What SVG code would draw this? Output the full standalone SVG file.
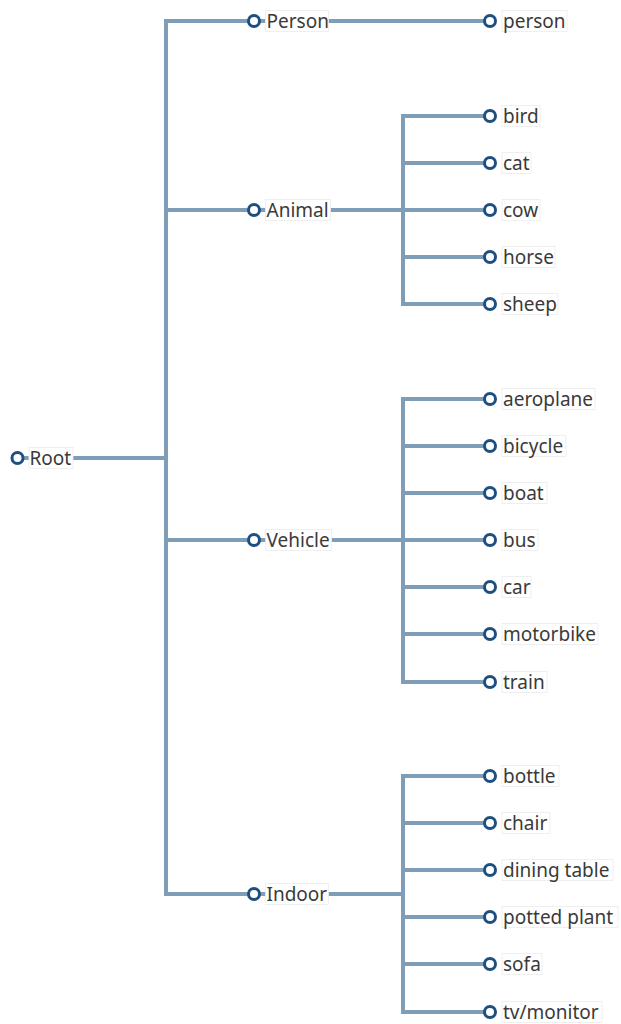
<svg xmlns="http://www.w3.org/2000/svg" width="621" height="1024" viewBox="0 0 621 1024">
<style>
.e{fill:none;stroke:#7f9db7;stroke-width:4;stroke-linejoin:miter}
.n{fill:#fff;stroke:#1d5080;stroke-width:3}
.b{fill:#fff;stroke:#ececec;stroke-width:0.8}
.t{font-family:"Noto Sans","Open Sans","DejaVu Sans",sans-serif;font-size:19px;fill:#3a3a3a}
</style>
<rect width="621" height="1024" fill="#fff"/>
<g id="connectors">
<path class="e" d="M17.5 458H166V21H254"/>
<path class="e" d="M17.5 458H166V210H254"/>
<path class="e" d="M17.5 458H166V540H254"/>
<path class="e" d="M17.5 458H166V894H254"/>
<path class="e" d="M254 21H490"/>
<path class="e" d="M254 210H403V116H490"/>
<path class="e" d="M254 210H403V163H490"/>
<path class="e" d="M254 210H490"/>
<path class="e" d="M254 210H403V257H490"/>
<path class="e" d="M254 210H403V304H490"/>
<path class="e" d="M254 540H403V399H490"/>
<path class="e" d="M254 540H403V446H490"/>
<path class="e" d="M254 540H403V493H490"/>
<path class="e" d="M254 540H490"/>
<path class="e" d="M254 540H403V587H490"/>
<path class="e" d="M254 540H403V634H490"/>
<path class="e" d="M254 540H403V682H490"/>
<path class="e" d="M254 894H403V776H490"/>
<path class="e" d="M254 894H403V823H490"/>
<path class="e" d="M254 894H403V870H490"/>
<path class="e" d="M254 894H403V917H490"/>
<path class="e" d="M254 894H403V964H490"/>
<path class="e" d="M254 894H403V1012H490"/>
</g>
<g id="root"><circle class="n" cx="17.5" cy="458" r="5.5"/><rect class="b" x="29" y="447.5" width="44" height="21"/><text class="t" x="29.5" y="464.5">Root</text></g>
<g id="Person"><circle class="n" cx="254" cy="21" r="5.5"/><rect class="b" x="265.5" y="10.5" width="63" height="21"/><text class="t" x="266.5" y="27.5">Person</text></g>
<g id="Animal"><circle class="n" cx="254" cy="210" r="5.5"/><rect class="b" x="265.5" y="199.5" width="65" height="21"/><text class="t" x="266.5" y="216.5">Animal</text></g>
<g id="Vehicle"><circle class="n" cx="254" cy="540" r="5.5"/><rect class="b" x="265.5" y="529.5" width="66" height="21"/><text class="t" x="266.5" y="546.5">Vehicle</text></g>
<g id="Indoor"><circle class="n" cx="254" cy="894" r="5.5"/><rect class="b" x="265.5" y="883.5" width="63" height="21"/><text class="t" x="266.5" y="900.5">Indoor</text></g>
<g id="person"><circle class="n" cx="490" cy="21" r="5.5"/><rect class="b" x="502" y="10.5" width="65" height="21"/><text class="t" x="503" y="27.5">person</text></g>
<g id="bird"><circle class="n" cx="490" cy="116" r="5.5"/><rect class="b" x="502" y="105.5" width="38" height="21"/><text class="t" x="503" y="122.5">bird</text></g>
<g id="cat"><circle class="n" cx="490" cy="163" r="5.5"/><rect class="b" x="502" y="152.5" width="29" height="21"/><text class="t" x="503" y="169.5">cat</text></g>
<g id="cow"><circle class="n" cx="490" cy="210" r="5.5"/><rect class="b" x="502" y="199.5" width="38" height="21"/><text class="t" x="503" y="216.5">cow</text></g>
<g id="horse"><circle class="n" cx="490" cy="257" r="5.5"/><rect class="b" x="502" y="246.5" width="53" height="21"/><text class="t" x="503" y="263.5">horse</text></g>
<g id="sheep"><circle class="n" cx="490" cy="304" r="5.5"/><rect class="b" x="502" y="293.5" width="56" height="21"/><text class="t" x="503" y="310.5">sheep</text></g>
<g id="aeroplane"><circle class="n" cx="490" cy="399" r="5.5"/><rect class="b" x="502" y="388.5" width="93" height="21"/><text class="t" x="503" y="405.5">aeroplane</text></g>
<g id="bicycle"><circle class="n" cx="490" cy="446" r="5.5"/><rect class="b" x="502" y="435.5" width="64" height="21"/><text class="t" x="503" y="452.5">bicycle</text></g>
<g id="boat"><circle class="n" cx="490" cy="493" r="5.5"/><rect class="b" x="502" y="482.5" width="45" height="21"/><text class="t" x="503" y="499.5">boat</text></g>
<g id="bus"><circle class="n" cx="490" cy="540" r="5.5"/><rect class="b" x="502" y="529.5" width="36" height="21"/><text class="t" x="503" y="546.5">bus</text></g>
<g id="car"><circle class="n" cx="490" cy="587" r="5.5"/><rect class="b" x="502" y="576.5" width="29" height="21"/><text class="t" x="503" y="593.5">car</text></g>
<g id="motorbike"><circle class="n" cx="490" cy="634" r="5.5"/><rect class="b" x="502" y="623.5" width="96" height="21"/><text class="t" x="503" y="640.5">motorbike</text></g>
<g id="train"><circle class="n" cx="490" cy="682" r="5.5"/><rect class="b" x="502" y="671.5" width="45" height="21"/><text class="t" x="503" y="688.5">train</text></g>
<g id="bottle"><circle class="n" cx="490" cy="776" r="5.5"/><rect class="b" x="502" y="765.5" width="57" height="21"/><text class="t" x="503" y="782.5">bottle</text></g>
<g id="chair"><circle class="n" cx="490" cy="823" r="5.5"/><rect class="b" x="502" y="812.5" width="48" height="21"/><text class="t" x="503" y="829.5">chair</text></g>
<g id="dining_table"><circle class="n" cx="490" cy="870" r="5.5"/><rect class="b" x="502" y="859.5" width="111" height="21"/><text class="t" x="503" y="876.5">dining table</text></g>
<g id="potted_plant"><circle class="n" cx="490" cy="917" r="5.5"/><rect class="b" x="502" y="906.5" width="116" height="21"/><text class="t" x="503" y="923.5">potted plant</text></g>
<g id="sofa"><circle class="n" cx="490" cy="964" r="5.5"/><rect class="b" x="502" y="953.5" width="40" height="21"/><text class="t" x="503" y="970.5">sofa</text></g>
<g id="tv_monitor"><circle class="n" cx="490" cy="1012" r="5.5"/><rect class="b" x="502" y="1001.5" width="100" height="21"/><text class="t" x="503" y="1018.5">tv/monitor</text></g>
</svg>
